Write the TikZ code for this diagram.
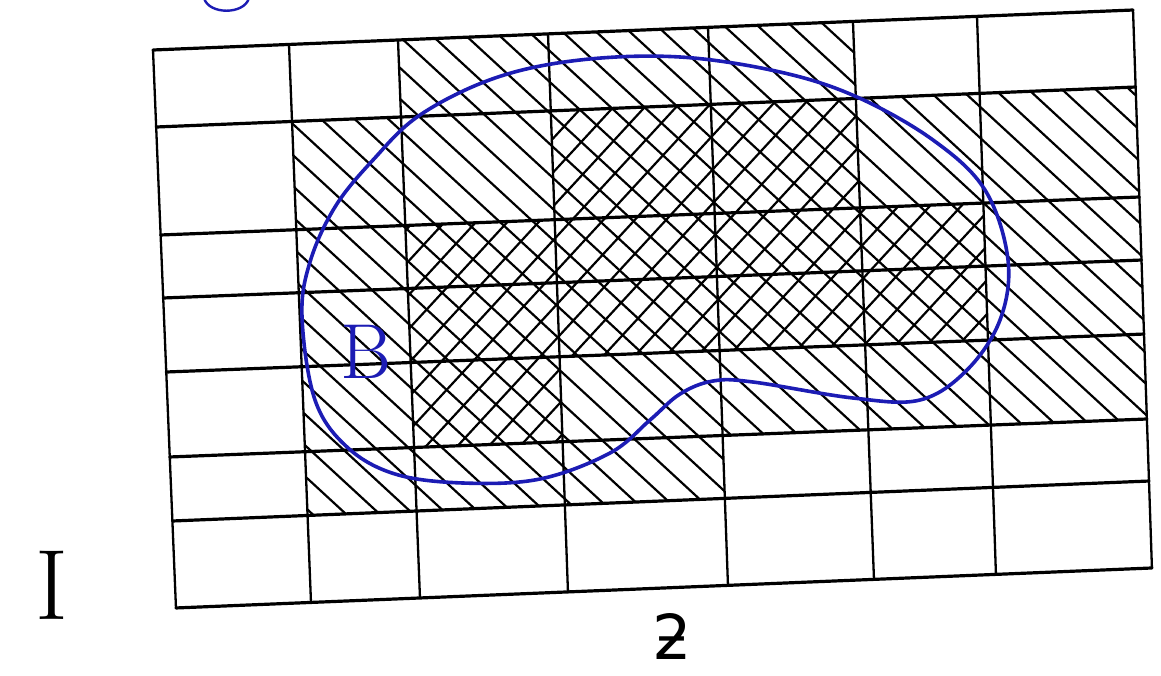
\documentclass[tikz,border=0pt]{standalone}
\usepackage{fontspec}
\newfontfamily\dejavu{DejaVu Sans}
\definecolor{inkblue}{RGB}{28,28,180}
\begin{document}
\begin{tikzpicture}[x=1pt,y=-1pt,
  hline/.style={line width=3.2pt,line cap=round},
  vline/.style={line width=2.3pt,line cap=round},
  hatch/.style={line width=2.2pt},
  blob/.style={inkblue,line width=3.6pt},
  hand/.style={inkblue},
]
\useasboundingbox (0,0) rectangle (1161,675);
% end points of grid lines
\coordinate (T0) at (153,50);   \coordinate (B0) at (176,608);
\coordinate (T1) at (289,44.4); \coordinate (B1) at (311,602.5);
\coordinate (T2) at (398,40);   \coordinate (B2) at (420,598);
\coordinate (T3) at (548,33.9); \coordinate (B3) at (568,592);
\coordinate (T4) at (708,27.3); \coordinate (B4) at (728,585.4);
\coordinate (T5) at (853,21.4); \coordinate (B5) at (874,579.4);
\coordinate (T6) at (977,16.4); \coordinate (B6) at (996,574.4);
\coordinate (T7) at (1133,10);  \coordinate (B7) at (1152,568);
\coordinate (L0) at (153,50);    \coordinate (R0) at (1133,10);
\coordinate (L1) at (156.2,127); \coordinate (R1) at (1135.6,87);
\coordinate (L2) at (160.6,235); \coordinate (R2) at (1139.4,197);
\coordinate (L3) at (163.2,298); \coordinate (R3) at (1141.5,260);
\coordinate (L4) at (166.3,372); \coordinate (R4) at (1144.1,334);
\coordinate (L5) at (169.8,457); \coordinate (R5) at (1147,419);
\coordinate (L6) at (172.4,521); \coordinate (R6) at (1149.1,481);
\coordinate (L7) at (176,608);   \coordinate (R7) at (1152,568);
\foreach \i in {0,...,7}{
  \foreach \j in {0,...,7}{
    \coordinate (p-\i-\j) at (intersection cs: first line={(T\i)--(B\i)}, second line={(L\j)--(R\j)});
  }
}
% single hatch "\" over hatched and cross-hatched cells
\begin{scope}
  \clip (p-2-0) -- (p-5-0) -- (p-5-1) -- (p-7-1) -- (p-7-5) -- (p-4-5)
        -- (p-4-6) -- (p-1-6) -- (p-1-1) -- (p-2-1) -- cycle;
  \foreach \c in {-1200,-1169,...,720}
    \draw[hatch] (100,{\c+92.2}) -- (1200,{\c+1106.6});
\end{scope}
% second hatch "/" over cross-hatched cells
\begin{scope}
  \clip (p-3-1) -- (p-5-1) -- (p-5-2) -- (p-6-2) -- (p-6-4) -- (p-3-4)
        -- (p-3-5) -- (p-2-5) -- (p-2-2) -- (p-3-2) -- cycle;
  \foreach \c in {160,194,...,1940}
    \draw[hatch] (100,{\c-108.4}) -- (1200,{\c-1300.8});
\end{scope}
% grid
\foreach \i in {0,...,7}
  \draw[vline] (p-\i-0) -- (p-\i-7);
\foreach \j in {0,...,7}
  \draw[hline] (p-0-\j) -- (p-7-\j);
% region boundary
\draw[blob] plot[smooth cycle, tension=0.6] coordinates {
  (302,317) (310,262) (335,207) (373,160) (420,115) (495,78) (580,60)
  (680,57) (780,72) (857,97) (933,140) (985,190) (1008,260) (1000,320)
  (967,370) (920,400) (853,398) (753,382) (713,381) (680,394) (650,420)
  (610,453) (540,479) (463,483) (395,474) (347,447) (315,400)};
% partial letter at the top edge
\coordinate (capA) at (204,-2);
\coordinate (capB) at (249,-2);
\draw[hand,line width=2.4pt] (capA) to[out=-75,in=-105,looseness=1] (capB);
% labels
\node[hand,font=\fontsize{78}{78}\selectfont] (lblB) at (366,352) {B};
\node[font=\fontsize{100}{100}\selectfont] (lblI) at (52,585) {I};
\node[font=\dejavu\fontsize{62}{62}\selectfont,anchor=base,inner sep=0pt,text depth=0pt] (lbl2) at (672,659) {ƻ};
\end{tikzpicture}
\end{document}
